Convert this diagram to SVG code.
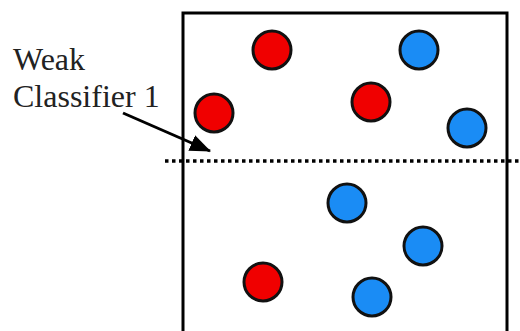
<svg xmlns="http://www.w3.org/2000/svg" width="520" height="331" viewBox="0 0 520 331">
  <style>
    .frame { fill: none; stroke: #000; stroke-width: 3; }
    .split { stroke: #000; stroke-width: 3.5; stroke-dasharray: 3.5 3.5; fill: none; }
    .pos { fill: #f00000; stroke: #111; stroke-width: 3; }
    .neg { fill: #1a8cf5; stroke: #111; stroke-width: 3; }
    .label { font-family: "Liberation Serif", "Times New Roman", serif; font-size: 32px; fill: #222; }
    .pointer { stroke: #000; stroke-width: 3; fill: none; }
  </style>
  <defs>
    <marker id="head" viewBox="0 0 20 16" refX="19" refY="8" markerWidth="21" markerHeight="17" markerUnits="userSpaceOnUse" orient="auto">
      <path d="M0,0 L20,8 L0,16 z" fill="#000"/>
    </marker>
  </defs>
  <rect width="520" height="331" fill="#fff"/>

  <!-- sample space -->
  <g id="frame">
    <path class="frame" d="M183,335 V13 H507 V335"/>
  </g>

  <!-- decision boundary -->
  <g id="boundary">
    <line class="split" x1="165" y1="161" x2="520" y2="161"/>
  </g>

  <!-- samples -->
  <g id="samples">
    <g id="r1"><circle class="pos" cx="272" cy="50" r="19"/></g>
    <g id="b1"><circle class="neg" cx="419" cy="50" r="19"/></g>
    <g id="r2"><circle class="pos" cx="214" cy="113" r="19"/></g>
    <g id="r3"><circle class="pos" cx="371" cy="102" r="19"/></g>
    <g id="b2"><circle class="neg" cx="467" cy="128" r="19"/></g>
    <g id="b3"><circle class="neg" cx="347" cy="203" r="19"/></g>
    <g id="b4"><circle class="neg" cx="423" cy="246" r="19"/></g>
    <g id="r4"><circle class="pos" cx="263" cy="282" r="19"/></g>
    <g id="b5"><circle class="neg" cx="372" cy="297" r="19"/></g>
  </g>

  <!-- label and pointer -->
  <g id="label">
    <text class="label" x="13" y="70">Weak</text>
    <text class="label" x="13" y="107">Classifier 1</text>
  </g>
  <g id="connectors">
    <line class="pointer" x1="123" y1="113" x2="210" y2="151" marker-end="url(#head)"/>
  </g>
</svg>
